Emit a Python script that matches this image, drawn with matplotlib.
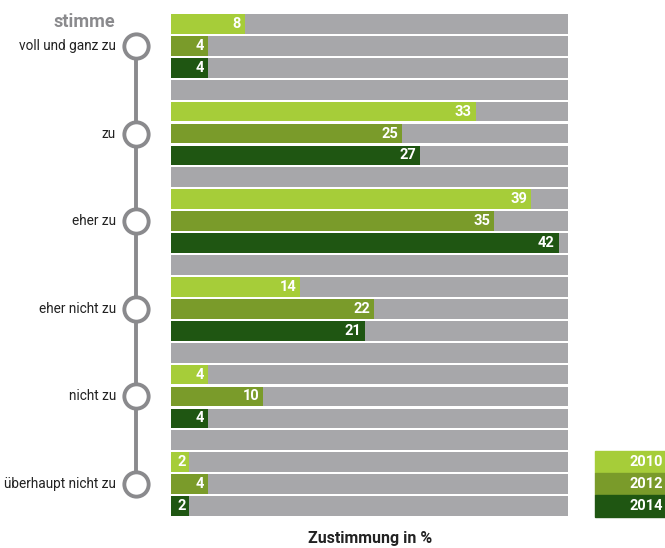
import matplotlib.pyplot as plt
from matplotlib.patches import Rectangle

answers = ['voll und ganz zu', 'zu', 'eher zu', 'eher nicht zu', 'nicht zu', 'überhaupt nicht zu']
years = ['2010', '2012', '2014']
v2010 = [8, 33, 39, 14, 4, 2]
v2012 = [4, 25, 35, 22, 10, 4]
v2014 = [4, 27, 42, 21, 4, 2]

colors = ['#a6cd39', '#7a9b2a', '#1f5612']
grey = '#a7a7aa'
line_grey = '#8a8a8d'
full = 43

plt.rcParams['font.family'] = ['Roboto', 'DejaVu Sans']

fig = plt.figure(figsize=(6.65, 5.48), dpi=100)
ax = fig.add_axes([171 / 665, 1 - 517 / 548, 397 / 665, 504 / 548])
u = 397 / full  # pixels per percent point

n_rows = len(answers) * 4 - 1
series = [v2010, v2012, v2014]
h = 0.9

# grey background rows, including the spacer rows between groups
for r in range(n_rows):
    ax.barh(r, full, height=h, color=grey, zorder=1)

cx = -35 / u
for g, label in enumerate(answers):
    for k in range(3):
        r = g * 4 + k
        val = series[k][g]
        ax.barh(r, val, height=h, color=colors[k], zorder=2)
        ax.text(val - 4 / u, r, str(val), ha='right', va='center', color='white',
                fontsize=10.5, fontweight='bold', zorder=3)
    # circle marker and answer text on the left
    mid = g * 4 + 1
    ax.plot(cx, mid, 'o', ms=17.5, mfc='white', mec=line_grey, mew=2.8,
            clip_on=False, zorder=5)
    ax.text(-55 / u, mid, label, ha='right', va='center', fontsize=9.8, color='#222222')

ax.plot([cx, cx], [1, (len(answers) - 1) * 4 + 1], color=line_grey, lw=2.8,
        clip_on=False, zorder=4)
ax.text(-56 / u, -0.1, 'stimme', ha='right', va='center', fontsize=13,
        fontweight='bold', color='#8a8a8d')

# legend boxes at bottom right
for k, yr in enumerate(years):
    r = n_rows - 3 + k
    ax.add_patch(Rectangle((424 / u, r - 0.5), 70 / u, 1.0, color=colors[k],
                           clip_on=False, zorder=2))
    ax.text(492 / u, r, yr, ha='right', va='center', color='white',
            fontsize=10.5, fontweight='bold', zorder=3)

ax.set_xlim(0, full)
ax.set_ylim(n_rows - 0.5, -0.5)
ax.axis('off')

fig.text(370 / 665, 1 - 538 / 548, 'Zustimmung in %', ha='center', va='center',
         fontsize=11.5, fontweight='bold', color='#222222')

plt.savefig('out.png', dpi=100)
